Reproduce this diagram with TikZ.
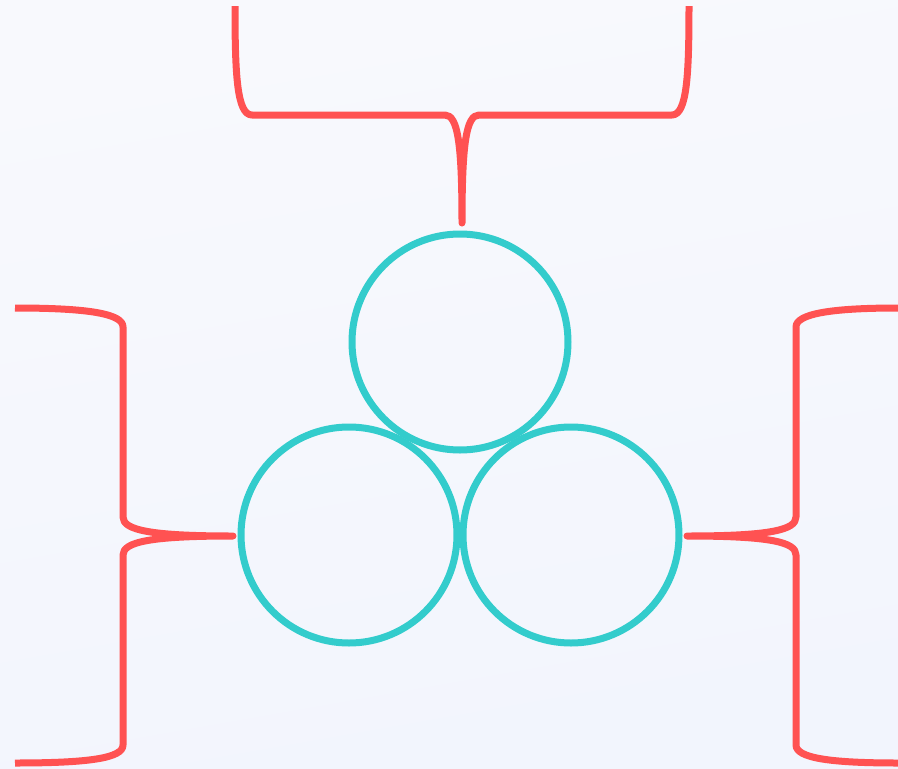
\documentclass[tikz,border=0pt]{standalone}
\begin{document}
\begin{tikzpicture}[x=1pt,y=-1pt,
  ring/.style={circle,draw=ringc,line width=7pt,minimum size=216pt,inner sep=0pt},
  brace/.style={draw=bracec,line width=7pt,line join=round}]
\definecolor{ringc}{HTML}{33CCCC}
\definecolor{bracec}{HTML}{FF5252}
\definecolor{bgtop}{HTML}{F8F9FD}
\definecolor{bgbot}{HTML}{F2F5FD}
\shade[top color=bgtop,bottom color=bgbot,shading angle=10] (0,0) rectangle (898,769);
\useasboundingbox (0,0) rectangle (898,769);
% circles
\node[ring] (top) at (460,342) {};
\node[ring] (bl) at (349,535) {};
\node[ring] (br) at (571,535) {};
% brace tips
\coordinate (ttip) at (462,223);
\coordinate (ltip) at (233,536);
\coordinate (rtip) at (687,536);
% top brace
\draw[brace] (235,6) .. controls (235,75) and (237,115) .. (252,115) -- (445,115)
  .. controls (458,115) and (462,145) .. (ttip)
  .. controls (462,145) and (466,115) .. (479,115) -- (672,115)
  .. controls (687,115) and (689,75) .. (689,6);
% left brace
\draw[brace] (15,308) .. controls (90,308) and (123,314) .. (123,327) -- (123,517)
  .. controls (123,530) and (150,536) .. (ltip)
  .. controls (150,536) and (123,542) .. (123,555) -- (123,745)
  .. controls (123,758) and (90,763) .. (15,763);
% right brace
\draw[brace] (898,308) .. controls (830,308) and (796,314) .. (796,327) -- (796,517)
  .. controls (796,530) and (770,536) .. (rtip)
  .. controls (770,536) and (796,542) .. (796,555) -- (796,745)
  .. controls (796,758) and (830,763) .. (898,763);
\end{tikzpicture}
\end{document}
